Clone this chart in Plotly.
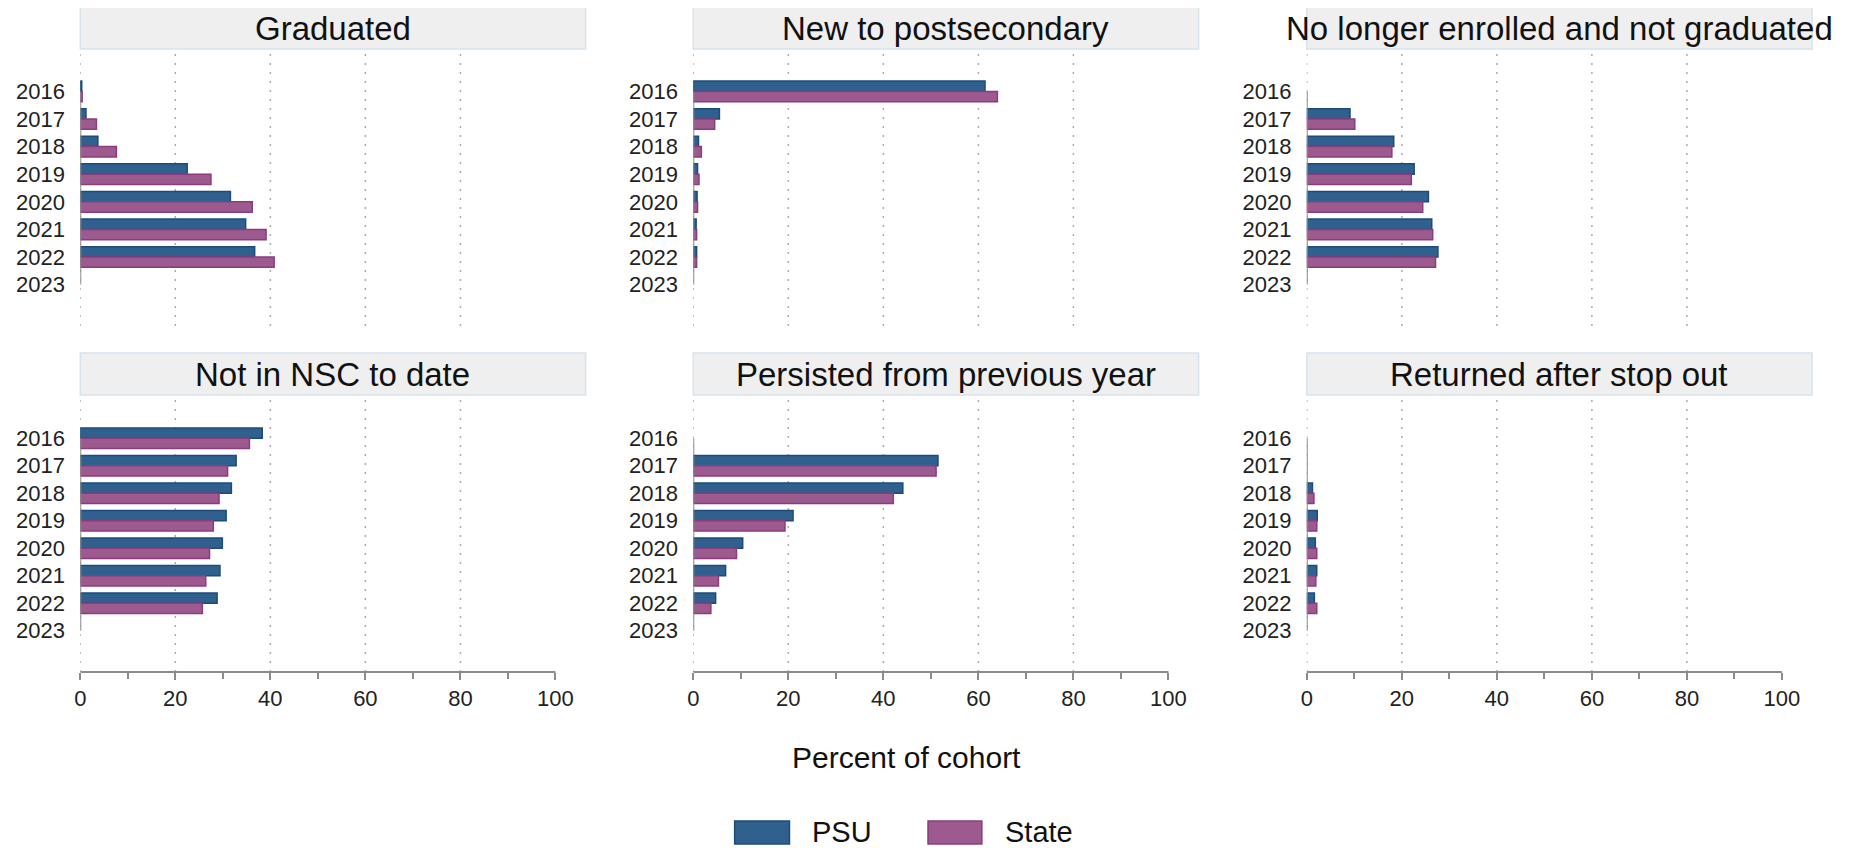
import plotly.graph_objects as go

# cohort outcome shares (percent of cohort)
years = [2016, 2017, 2018, 2019, 2020, 2021, 2022, 2023]
panel_titles = ["Graduated", "New to postsecondary", "No longer enrolled and not graduated",
                "Not in NSC to date", "Persisted from previous year", "Returned after stop out"]

psu_graduated = [0.3, 1.2, 3.7, 22.5, 31.6, 34.8, 36.7, None]
state_graduated = [0.4, 3.4, 7.6, 27.5, 36.2, 39.1, 40.8, None]
psu_new = [61.4, 5.5, 1.1, 0.9, 0.8, 0.6, 0.7, None]
state_new = [64.0, 4.5, 1.7, 1.2, 0.9, 0.7, 0.7, None]
psu_no_longer = [None, 9.1, 18.3, 22.6, 25.6, 26.3, 27.6, None]
state_no_longer = [None, 10.1, 17.9, 22.0, 24.4, 26.5, 27.1, None]
psu_not_nsc = [38.3, 32.8, 31.8, 30.7, 29.9, 29.4, 28.8, None]
state_not_nsc = [35.6, 31.0, 29.2, 28.0, 27.2, 26.4, 25.7, None]
psu_persisted = [None, 51.5, 44.1, 21.0, 10.4, 6.8, 4.7, None]
state_persisted = [None, 51.1, 42.1, 19.3, 9.1, 5.3, 3.7, None]
psu_returned = [None, None, 1.2, 2.2, 1.8, 2.1, 1.6, None]
state_returned = [None, None, 1.5, 2.1, 2.1, 1.9, 2.1, None]

x_ticks = [0, 20, 40, 60, 80, 100]
x_minor = [10, 30, 50, 70, 90]
grid_at = [0, 20, 40, 60, 80]

psu_series = [psu_graduated, psu_new, psu_no_longer, psu_not_nsc, psu_persisted, psu_returned]
state_series = [state_graduated, state_new, state_no_longer, state_not_nsc, state_persisted, state_returned]

# the page body has an 8px margin, so the figure starts at (8, 8) in the window
OFF = 8
W, H = 1846, 840
FONT = "Liberation Sans, Arial, sans-serif"
PSU_FILL, PSU_LINE = "#30608e", "#1d4c7b"
ST_FILL, ST_LINE = "#9d5a8e", "#8a3c7c"
GRAY = "#8c8c8c"

col_x0 = [74.5, 689.5, 1305]
axis_w = 476.7
strip_w = 507
rows = [dict(strip=(7, 49), plot=(50, 326)), dict(strip=(353, 395), plot=(397, 672))]
xmax = 100 * strip_w / axis_w

def px(v):
    return (v - OFF) / W

def py(v):
    return 1 - (v - OFF) / H

fig = go.Figure()
shapes = []
annotations = []
layout = {}

for i, title in enumerate(panel_titles):
    r, c = divmod(i, 3)
    n = i + 1
    xa = "x" if n == 1 else f"x{n}"
    ya = "y" if n == 1 else f"y{n}"
    bottom = r == 1

    fig.add_trace(go.Bar(y=years, x=psu_series[i], orientation="h", name="PSU",
                         marker=dict(color=PSU_FILL, line=dict(color=PSU_LINE, width=1.5)),
                         xaxis=xa, yaxis=ya, showlegend=False))
    fig.add_trace(go.Bar(y=years, x=state_series[i], orientation="h", name="State",
                         marker=dict(color=ST_FILL, line=dict(color=ST_LINE, width=1.5)),
                         xaxis=xa, yaxis=ya, showlegend=False))

    x0 = col_x0[c]
    ptop, pbot = rows[r]["plot"]
    layout["xaxis" if n == 1 else f"xaxis{n}"] = dict(
        domain=[px(x0), px(x0 + strip_w)], range=[0, xmax], anchor=ya,
        showgrid=False, zeroline=False, showline=False,
        tickmode="array", tickvals=x_ticks, showticklabels=bottom,
        ticks="outside" if bottom else "", ticklen=7, tickwidth=2, tickcolor=GRAY,
        minor=dict(tickmode="array", tickvals=x_minor, ticks="outside" if bottom else "",
                   ticklen=6, tickwidth=2, tickcolor=GRAY, showgrid=False),
        tickfont=dict(size=22, color="#222222", family=FONT), fixedrange=True)
    layout["yaxis" if n == 1 else f"yaxis{n}"] = dict(
        domain=[py(pbot), py(ptop)], range=[2024.5, 2014.5], anchor=xa,
        showgrid=False, zeroline=False, showline=False,
        tickmode="array", tickvals=years, ticks="outside", ticklen=10,
        tickcolor="rgba(0,0,0,0)",
        tickfont=dict(size=22, color="#222222", family=FONT), fixedrange=True)

    # dotted grid
    for g in grid_at:
        shapes.append(dict(type="line", xref=xa, yref=f"{ya} domain", x0=g, x1=g, y0=0, y1=1,
                           line=dict(color="#ababab", width=1.5, dash="2px,7px"), layer="below"))
    # y axis line spanning the categories
    shapes.append(dict(type="line", xref=xa, yref=ya, x0=0, x1=0, y0=years[0], y1=years[-1],
                       line=dict(color=GRAY, width=2)))
    if bottom:
        shapes.append(dict(type="line", xref=xa, yref=f"{ya} domain", x0=0, x1=100, y0=0, y1=0,
                           line=dict(color=GRAY, width=2)))
    # strip header
    s0, s1 = rows[r]["strip"]
    shapes.append(dict(type="rect", xref="paper", yref="paper", x0=px(x0), x1=px(x0 + strip_w),
                       y0=py(s1), y1=py(s0), fillcolor="#efefef",
                       line=dict(color="#d6e4eb", width=1.5), layer="below"))
    annotations.append(dict(text=title, xref="paper", yref="paper", x=px(x0 + strip_w / 2),
                            y=py((s0 + s1) / 2), xanchor="center", yanchor="middle",
                            showarrow=False, font=dict(size=33, color="#111111", family=FONT)))

# shared x axis title
annotations.append(dict(text="Percent of cohort", xref="paper", yref="paper", x=px(903), y=py(757),
                        xanchor="center", yanchor="middle", showarrow=False,
                        font=dict(size=30, color="#111111", family=FONT)))

# legend drawn by hand to match the large swatches
for (sx0, sx1, tx, label, fill, line) in [(731, 786, 807, "PSU", PSU_FILL, PSU_LINE),
                                          (925, 979, 1000, "State", ST_FILL, ST_LINE)]:
    shapes.append(dict(type="rect", xref="paper", yref="paper", x0=px(sx0), x1=px(sx1),
                       y0=py(844), y1=py(821), fillcolor=fill, line=dict(color=line, width=1.5)))
    annotations.append(dict(text=label, xref="paper", yref="paper", x=px(tx), y=py(832),
                            xanchor="left", yanchor="middle", showarrow=False,
                            font=dict(size=29, color="#111111", family=FONT)))

fig.update_layout(
    width=W, height=H, autosize=False,
    margin=dict(l=0, r=0, t=0, b=0),
    paper_bgcolor="white", plot_bgcolor="white",
    barmode="group", bargap=0.25, bargroupgap=0,
    font=dict(family=FONT),
    shapes=shapes, annotations=annotations, showlegend=False,
    **layout)

fig.write_html("out.html")
